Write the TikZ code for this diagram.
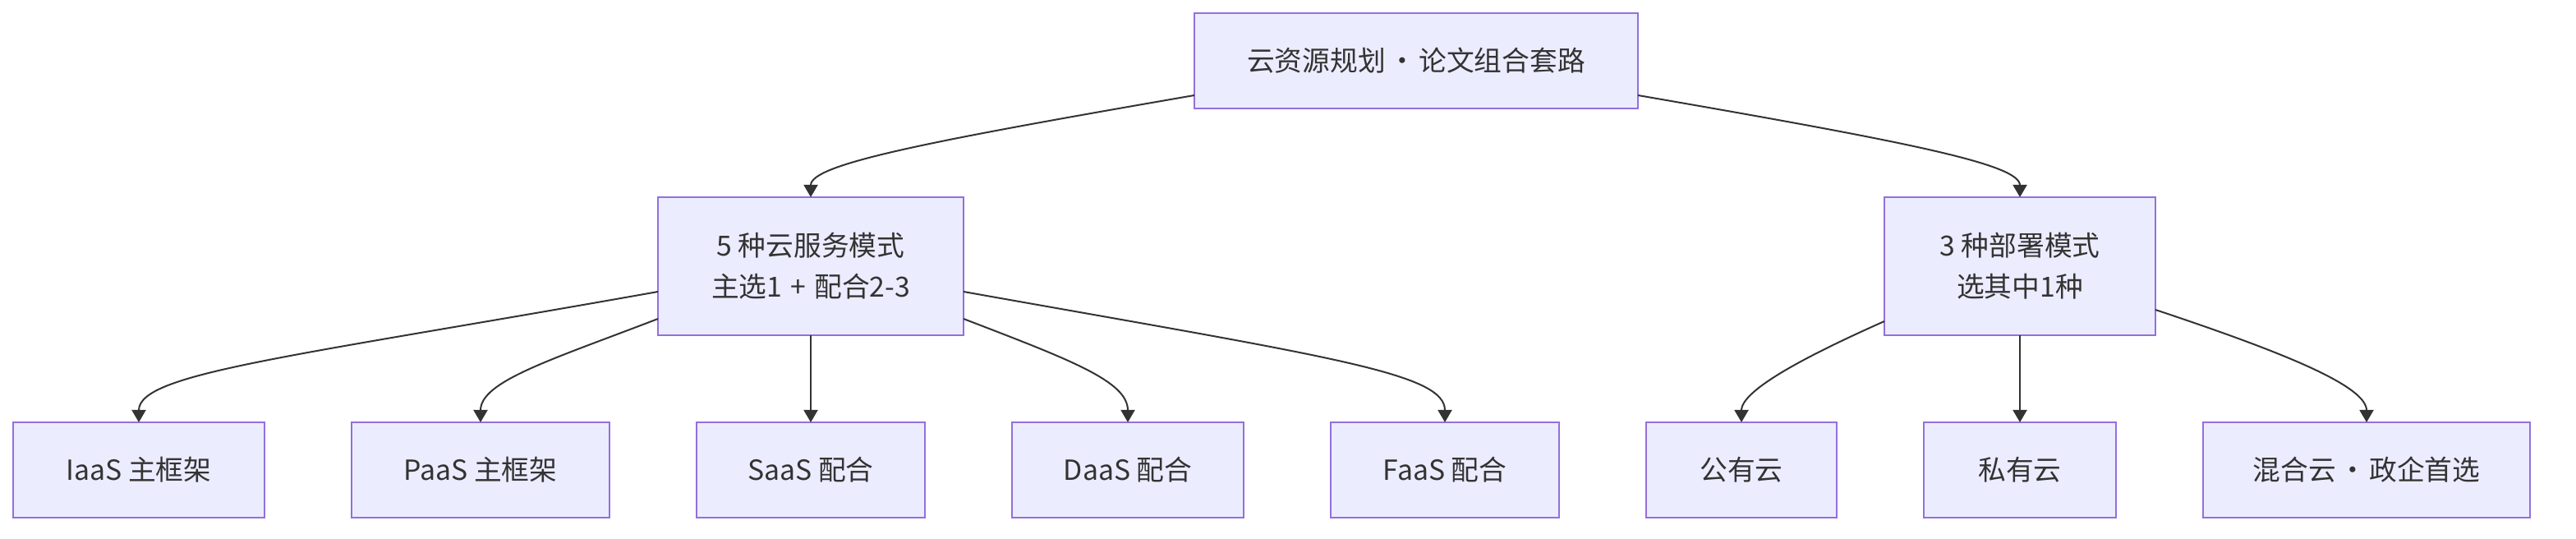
\documentclass[tikz,border=0pt]{standalone}
\usepackage{fontspec}
\setmainfont{Noto Sans CJK SC}
\usepackage{tikz}
\usetikzlibrary{arrows.meta, positioning}
\definecolor{boxfill}{HTML}{ECECFF}
\definecolor{boxline}{HTML}{9370DB}
\definecolor{ink}{HTML}{333333}
\newcommand{\middot}{\hspace{0.1em}·\hspace{0.1em}}

\begin{document}
\begin{tikzpicture}[
  node distance=10.6mm and 10.6mm,
  box/.style={rectangle, draw=boxline, line width=0.25mm, fill=boxfill,
              text=ink, minimum height=11.6mm, inner xsep=1mm, outer sep=0pt,
              align=center, font=\fontsize{9.6pt}{14.2pt}\selectfont},
  arr/.style={-{Triangle[length=1.5mm, width=1.7mm]}, draw=ink, line width=0.2mm}
]
\useasboundingbox (0,0) rectangle (313.6mm,-65.6mm);

% Root
\node[box, minimum width=54mm] (root) at (172.4mm,-7.4mm)
  {云资源规划\middot 论文组合套路};

% Service models row
\node[box, minimum width=30.6mm, anchor=west] (iaas) at (1.6mm,-57.2mm) {IaaS 主框架};
\node[box, minimum width=31.4mm, right=of iaas] (paas) {PaaS 主框架};
\node[box, minimum width=27.8mm, right=of paas] (saas) {SaaS 配合};
\node[box, minimum width=28.2mm, right=of saas] (daas) {DaaS 配合};
\node[box, minimum width=27.8mm, right=of daas] (faas) {FaaS 配合};

% Deployment row
\node[box, minimum width=23.2mm, right=of faas] (pub) {公有云};
\node[box, minimum width=23.4mm, right=of pub] (priv) {私有云};
\node[box, minimum width=39.8mm, right=of priv] (hyb) {混合云\middot 政企首选};

% Middle level
\node[box, minimum width=37.2mm, minimum height=16.8mm, above=of saas] (svc)
  {5 种云服务模式\\主选1\hspace{0.3em}+\hspace{0.3em}配合2-3};
\node[box, minimum width=33mm, minimum height=16.8mm, above=of priv] (dep)
  {3 种部署模式\\选其中1种};

% Arrows
\draw[arr] ([yshift=-4.2mm]root.west) .. controls +(-33mm,-5.7mm) and +(0,4mm) .. (svc.north);
\draw[arr] ([yshift=-4.2mm]root.east) .. controls +(33mm,-5.7mm) and +(0,4mm) .. (dep.north);
\draw[arr] ([yshift=-3.1mm]svc.west) .. controls +(-45mm,-8mm) and +(0,6mm) .. (iaas.north);
\draw[arr] ([yshift=-6.4mm]svc.west) .. controls +(-13mm,-5mm) and +(0,5mm) .. (paas.north);
\draw[arr] (svc) -- (saas);
\draw[arr] ([yshift=-6.4mm]svc.east) .. controls +(13mm,-5mm) and +(0,5mm) .. (daas.north);
\draw[arr] ([yshift=-3.1mm]svc.east) .. controls +(45mm,-8mm) and +(0,6mm) .. (faas.north);
\draw[arr] ([yshift=-6.7mm]dep.west) .. controls +(-9mm,-4mm) and +(0,4mm) .. (pub.north);
\draw[arr] (dep) -- (priv);
\draw[arr] ([yshift=-5.3mm]dep.east) .. controls +(15mm,-5mm) and +(0,4.5mm) .. (hyb.north);

\end{tikzpicture}
\end{document}
